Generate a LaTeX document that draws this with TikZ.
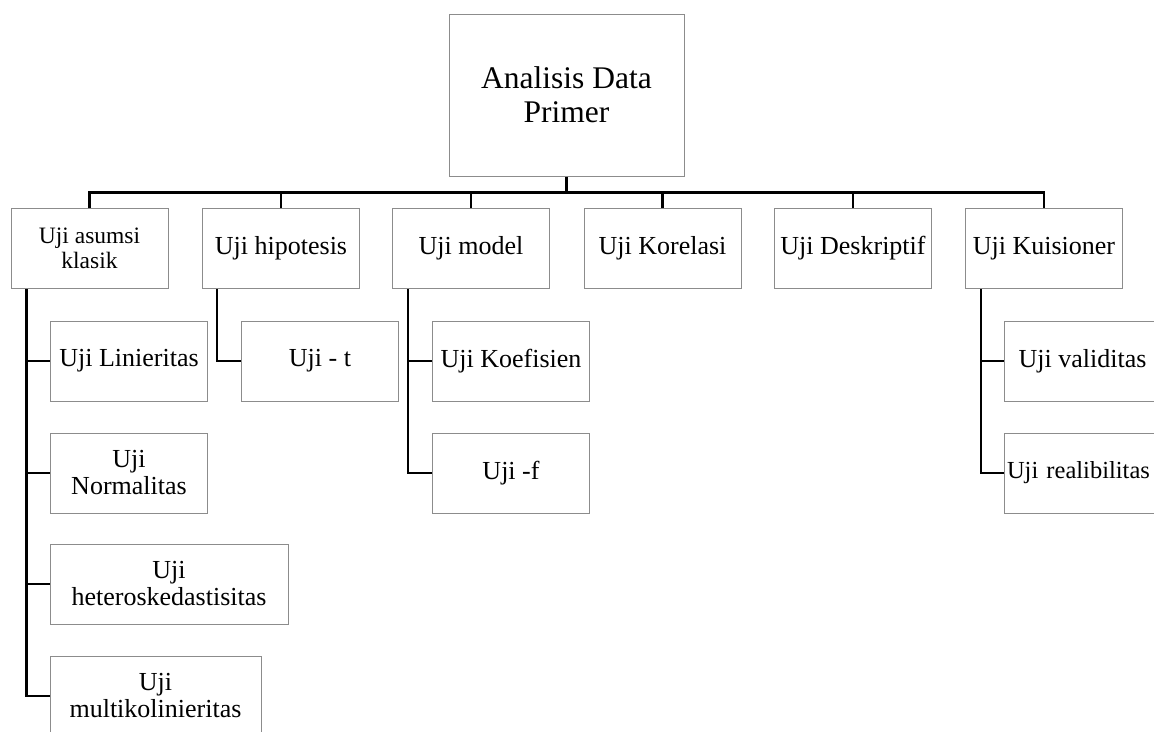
\documentclass[tikz,border=0pt]{standalone}
\usepackage{fontspec}
\setmainfont{Liberation Serif}
\usetikzlibrary{calc}
\definecolor{boxline}{RGB}{140,140,140}
\tikzset{
  box/.style={draw=boxline, line width=1pt, rectangle, inner sep=0pt,
    minimum width=157pt, minimum height=80pt, align=center,
    font=\fontsize{26}{27}\selectfont},
  conn/.style={draw=black, line width=2.6pt}
}
\begin{document}
\begin{tikzpicture}[x=1pt,y=-1pt]
\useasboundingbox (0,0) rectangle (1154,731);
\clip (0,0) rectangle (1154,731);
% root
\node[box, minimum width=235pt, minimum height=162pt, font=\fontsize{31.5}{34}\selectfont] (top) at (566.5,95) {Analisis Data\\Primer};
% level 1
\node[box, font=\fontsize{23.5}{25}\selectfont] (asumsi) at (89.5,248.5) {Uji asumsi\\klasik};
\node[box] (hip) at (281,248.5) {Uji hipotesis};
\node[box] (model) at (471,248.5) {Uji model};
\node[box] (kor) at (662.5,248.5) {Uji Korelasi};
\node[box] (desk) at (853,248.5) {Uji Deskriptif};
\node[box] (kuis) at (1044,248.5) {Uji Kuisioner};
% level 2
\node[box] (lin) at (129,361) {Uji Linieritas};
\node[box] (nor) at (129,473) {Uji\\Normalitas};
\node[box, minimum width=238pt] (het) at (169,584) {Uji\\heteroskedastisitas};
\node[box, minimum width=211pt] (mul) at (155.5,696) {Uji\\multikolinieritas};
\node[box] (ujit) at (320,361) {Uji - t};
\node[box] (koef) at (511,361) {Uji Koefisien};
\node[box] (ujif) at (511,473) {Uji -f};
\node[box] (val) at (1082.5,361) {Uji validitas};
\node[box, text width=151pt, inner xsep=3pt, align=left, font=\fontsize{24.5}{26}\selectfont] (rel) at (1082.5,473) {Uji realibilitas};
% tree connectors
\coordinate (bar) at ($(top.south)+(0,16)$);
\draw[conn] (top.south) -- (bar);
\draw[conn] (asumsi.north) -- (asumsi.north |- bar) -- (kuis.north |- bar) -- (kuis.north);
\foreach \n in {hip,model,kor,desk}{
  \draw[conn] (\n.north) -- (\n.north |- bar);
}
% elbow connectors
\coordinate (asv) at ($(asumsi.south west)+(16,0)$);
\draw[conn] (asv) |- (lin.west);
\draw[conn] (asv) |- (nor.west);
\draw[conn] (asv) |- (het.west);
\draw[conn] (asv) |- (mul.west);
\coordinate (hipv) at ($(hip.south west)+(15,0)$);
\draw[conn] (hipv) |- (ujit.west);
\coordinate (modv) at ($(model.south west)+(16,0)$);
\draw[conn] (modv) |- (koef.west);
\draw[conn] (modv) |- (ujif.west);
\coordinate (kuv) at ($(kuis.south west)+(16,0)$);
\draw[conn] (kuv) |- (val.west);
\draw[conn] (kuv) |- (rel.west);
\end{tikzpicture}
\end{document}
